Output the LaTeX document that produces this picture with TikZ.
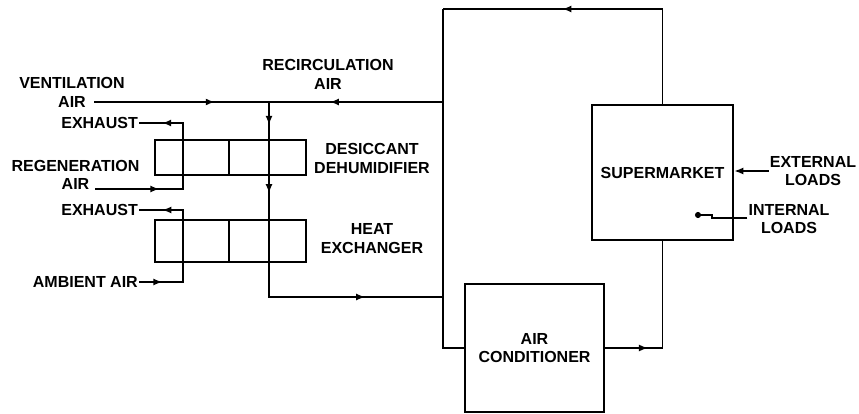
\documentclass[tikz,border=0pt]{standalone}
\usepackage{fontspec}
\setmainfont{Liberation Sans}
\usetikzlibrary{arrows.meta,positioning,decorations.markings}
\begin{document}
\begin{tikzpicture}[x=1pt, y=-1pt,
    line/.style={line width=1.6pt},
    box/.style={draw, line width=2.6pt, inner sep=0pt},
    cell/.style={draw, line width=2.4pt, inner sep=0pt, outer sep=0pt},
    lbl/.style={font=\fontsize{16}{18.5}\selectfont\bfseries, align=center, inner sep=1pt},
    arr/.style={postaction={decorate, decoration={markings,
        mark=at position #1 with {\arrow{Latex[length=9pt,width=7pt]}}}}}]
    \useasboundingbox (0,0) rectangle (859,414);

    % 除湿器与换热器
    \node[cell, minimum width=74pt, minimum height=35pt] (dd1) at (192,157.5) {};
    \node[cell, minimum width=77pt, minimum height=35pt, right=0pt of dd1] (dd2) {};
    \node[cell, minimum width=74pt, minimum height=42pt] (hx1) at (192,241) {};
    \node[cell, minimum width=77pt, minimum height=42pt, right=0pt of hx1] (hx2) {};

    % 超市与空调
    \node[box, lbl, minimum width=141pt, minimum height=135pt] (sm) at (662.5,172.5) {SUPERMARKET};
    \node[box, lbl, minimum width=139pt, minimum height=128pt] (ac) at (534.5,348) {AIR\\CONDITIONER};

    % 文字
    \node[lbl] (vent) at (72,92.5) {VENTILATION\\AIR};
    \node[lbl] (recirc) at (328,74.5) {RECIRCULATION\\AIR};
    \node[lbl, anchor=east] (exh1) at (139,123) {EXHAUST};
    \node[lbl] (regen) at (75.5,175) {REGENERATION\\AIR};
    \node[lbl, anchor=east] (exh2) at (139,210) {EXHAUST};
    \node[lbl, anchor=east] (amb) at (139,282) {AMBIENT AIR};
    \node[lbl] (ddlbl) at (372,158.5) {DESICCANT\\DEHUMIDIFIER};
    \node[lbl] (hxlbl) at (372,238.5) {HEAT\\EXCHANGER};
    \node[lbl] (ext) at (813,171) {EXTERNAL\\LOADS};
    \node[lbl] (int) at (789,219) {INTERNAL\\LOADS};

    % 折点
    \coordinate (va) at (94,102);
    \coordinate (j1) at (269,102);
    \coordinate (rt) at (443,102);
    \coordinate (tl) at (443,9);
    \coordinate (j2) at (443,297);
    \coordinate (ra) at (95,189);
    \coordinate (rv) at (183,123);
    \coordinate (av) at (183,210);
    \coordinate (jog) at (712,218);
    \coordinate (ild) at (695,215);

    % 新风与回风
    \draw[line, arr=0.69] (va) -- (j1);
    \draw[line, arr=0.65] (rt) -- (j1);
    \draw[line, arr=0.062, arr=0.247, arr=0.789] (j1) |- (j2);

    % 回风环路
    \draw[line, arr=0.62] (sm.north) |- (tl);
    \draw[line] (tl) |- (ac.west);
    \draw[line, arr=0.26] (ac.east) -| (sm.south);

    % 再生空气与室外空气
    \draw[line, arr=0.325, arr=0.883] (ra) -| (rv) -- (exh1.east);
    \draw[line, arr=0.146, arr=0.854] (amb.east) -| (av) -- (exh2.east);

    % 负荷
    \draw[line, -{Latex[length=9pt,width=7pt]}] (ext.west) -- (ext.west -| sm.east);
    \draw[line, -{Circle[length=6pt]}] (int.west |- jog) -- (jog) |- (ild);
\end{tikzpicture}
\end{document}
